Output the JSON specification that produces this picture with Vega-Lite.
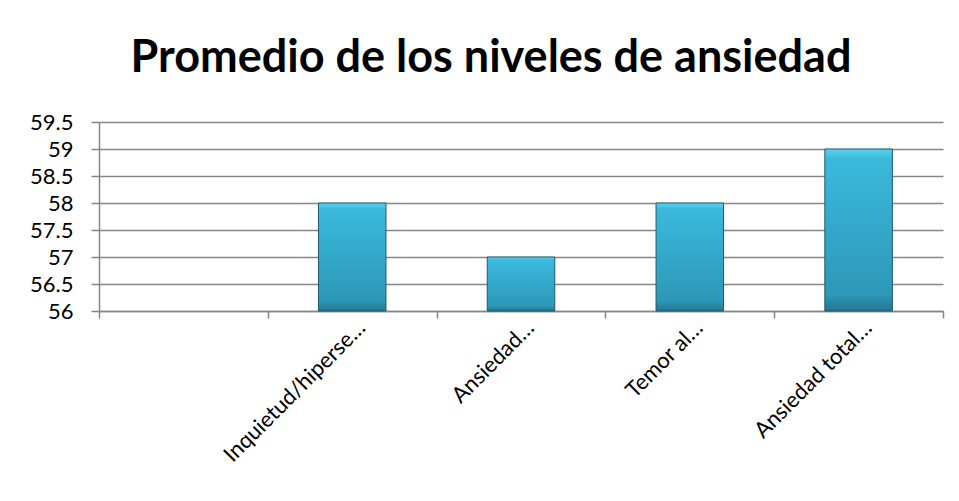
{
  "$schema": "https://vega.github.io/schema/vega-lite/v6.json",
  "autosize": {"type": "none"},
  "width": 844,
  "height": 189,
  "padding": {"left": 99, "top": 122, "right": 16, "bottom": 190},
  "background": "white",
  "title": {
    "text": "Promedio de los niveles de ansiedad",
    "font": "Lato",
    "fontSize": 45,
    "fontWeight": "bold",
    "color": "#000000",
    "anchor": "middle",
    "baseline": "alphabetic",
    "offset": 47,
    "dy": 53,
    "dx": -30
  },
  "data": {
    "values": [
      {"categoria": " ", "valor": null},
      {"categoria": "Inquietud/hiperse…", "valor": 58},
      {"categoria": "Ansiedad…", "valor": 57},
      {"categoria": "Temor al…", "valor": 58},
      {"categoria": "Ansiedad total…", "valor": 59}
    ]
  },
  "mark": {
    "type": "bar",
    "width": {"band": 0.4},
    "fill": {
      "gradient": "linear",
      "x1": 0, "y1": 0, "x2": 0, "y2": 1,
      "stops": [
        {"offset": 0, "color": "#5AD2EF"},
        {"offset": 0.06, "color": "#3BB9DD"},
        {"offset": 0.9, "color": "#2D98B8"},
        {"offset": 1, "color": "#24768F"}
      ]
    },
    "stroke": "#1E5A6B",
    "strokeWidth": 1
  },
  "encoding": {
    "x": {
      "field": "categoria",
      "type": "nominal",
      "sort": null,
      "scale": {
        "domain": [" ", "Inquietud/hiperse…", "Ansiedad…", "Temor al…", "Ansiedad total…"],
        "paddingInner": 0,
        "paddingOuter": 0
      },
      "axis": {
        "title": null,
        "labelAngle": -45,
        "labelAlign": "right",
        "labelBaseline": "middle",
        "labelFont": "Lato",
        "labelFontSize": 22,
        "labelColor": "#000000",
        "labelOffset": 9,
        "labelPadding": 6,
        "tickBand": "extent",
        "tickSize": 7,
        "tickColor": "#868686",
        "tickWidth": 1.5,
        "domainColor": "#868686",
        "domainWidth": 1.5,
        "grid": false,
        "labelOverlap": false,
        "labelLimit": 0
      }
    },
    "y": {
      "field": "valor",
      "type": "quantitative",
      "scale": {"domain": [56, 59.5], "zero": false, "nice": false},
      "axis": {
        "title": null,
        "values": [56, 56.5, 57, 57.5, 58, 58.5, 59, 59.5],
        "format": ".1~f",
        "labelFont": "Lato",
        "labelFontSize": 22,
        "labelColor": "#000000",
        "labelPadding": 18,
        "tickSize": 8,
        "tickColor": "#868686",
        "tickWidth": 1.5,
        "domainColor": "#868686",
        "domainWidth": 1.5,
        "grid": true,
        "gridColor": "#868686",
        "gridWidth": 1.5
      }
    },
    "y2": {"datum": 56}
  },
  "config": {
    "view": {"stroke": null}
  }
}
